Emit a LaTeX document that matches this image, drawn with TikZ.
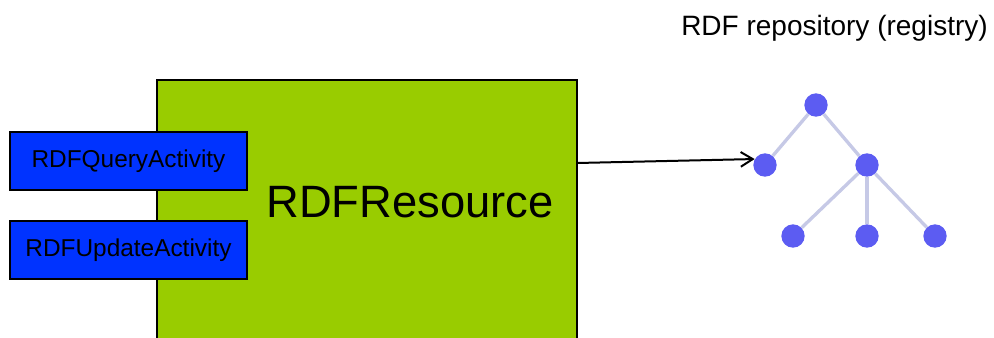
\documentclass[tikz,border=0pt]{standalone}
\usepackage{fontspec}
\setmainfont{Liberation Sans}
\usetikzlibrary{arrows.meta}
\definecolor{resgreen}{HTML}{99CC00}
\definecolor{actblue}{HTML}{0033FF}
\definecolor{treenode}{HTML}{5C5CF2}
\definecolor{treeedge}{HTML}{C6C9E6}
\tikzset{
  resbox/.style={draw=black, line width=1.5pt, fill=resgreen, minimum width=315pt, minimum height=210pt, inner sep=0pt},
  actbox/.style={draw=black, line width=1.5pt, fill=actblue, minimum width=177.75pt, minimum height=43.5pt, inner sep=0pt, font=\fontsize{18.3}{20}\selectfont, text height=0.9em, text depth=0pt},
  tnode/.style={circle, fill=treenode, minimum size=17.5pt, inner sep=0pt},
  tedge/.style={draw=treeedge, line width=2.5pt},
  conn/.style={draw=black, line width=1.5pt, -{Straight Barb[length=9pt,width=11pt,line width=1.5pt]}},
}
\begin{document}
\begin{tikzpicture}[x=0.75pt, y=-0.75pt]
\useasboundingbox (0,0) rectangle (994,337);
\clip (0,0) rectangle (994,337);
% main resource box (extends below the picture)
\node[resbox] (res) at (367,220) {};
\node[anchor=base, font=\fontsize{34}{40}\selectfont, inner sep=0pt] (reslabel) at (410,217) {RDFResource};
% activities
\node[actbox] (query) at (128.5,161) {RDFQueryActivity};
\node[actbox] (update) at (128.5,250) {RDFUpdateActivity};
% repository tree
\node[anchor=base west, font=\fontsize{21}{24}\selectfont, inner sep=0pt] (title) at (681,35) {RDF repository (registry)};
\node[tnode] (root) at (816,105) {};
\node[tnode] (l) at (765,165) {};
\node[tnode] (r) at (867,165) {};
\node[tnode] (b1) at (793,236) {};
\node[tnode] (b2) at (867,236) {};
\node[tnode] (b3) at (935,236) {};
\path[tedge] (root) -- (l);
\path[tedge] (root) -- (r);
\path[tedge] (r) -- (b1);
\path[tedge] (r) -- (b2);
\path[tedge] (r) -- (b3);
% connector
\coordinate (a0) at (577,163);
\draw[conn] (a0) -- (l.150);
\end{tikzpicture}
\end{document}
